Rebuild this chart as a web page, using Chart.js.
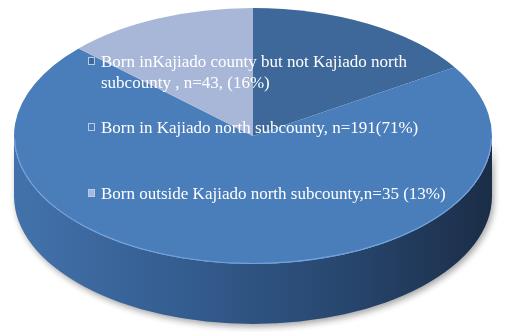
<!DOCTYPE html>
<html>
<head>
<meta charset="utf-8">
<script src="https://cdn.jsdelivr.net/npm/chart.js@4/dist/chart.umd.min.js"></script>
<style>
  html, body { margin: 0; padding: 0; background: #ffffff; }
  #wrap { width: 509px; height: 332px; position: relative; }
</style>
</head>
<body>
<div id="wrap"><canvas id="c" width="509" height="332"></canvas></div>
<script>
// ---- data ----
const categories = [
  "Born inKajiado county but not Kajiado north subcounty , n=43, (16%)",
  "Born in Kajiado north subcounty, n=191(71%)",
  "Born outside Kajiado north subcounty,n=35 (13%)"
];
const counts = [43, 191, 35];
const sliceColors = ["#3e6899", "#4a7ebb", "#a8b7d8"];

// ---- layout (not data) ----
const GEO = { cx: 253, cy: 136, rx: 239, ry: 128, depth: 60 };
const LEGEND = { x: 101, markerX: 88, baselines: [67, 133, 199], lineHeight: 21, maxWidth: 360,
                 font: "17px 'Liberation Serif', 'Times New Roman', serif" };

function wrapText(ctx, text, maxW) {
  const words = text.split(' ');
  const lines = [];
  let cur = '';
  for (const w of words) {
    const t = cur ? cur + ' ' + w : w;
    if (ctx.measureText(t).width > maxW && cur) { lines.push(cur); cur = w; }
    else cur = t;
  }
  if (cur) lines.push(cur);
  return lines;
}

const tiltPlugin = {
  id: 'tilt3d',
  beforeDatasetsDraw(chart) {
    const ctx = chart.ctx;
    const arc = chart.getDatasetMeta(0).data[0];
    const { cx, cy, rx, ry, depth } = GEO;
    // side wall
    ctx.save();
    const g = ctx.createLinearGradient(cx - rx, 0, cx + rx, 0);
    g.addColorStop(0, '#4372ab');
    g.addColorStop(0.35, '#345d90');
    g.addColorStop(0.7, '#27466d');
    g.addColorStop(1, '#1b2d47');
    ctx.shadowColor = 'rgba(0,0,0,0.35)';
    ctx.shadowBlur = 6;
    ctx.shadowOffsetX = 2;
    ctx.shadowOffsetY = 3;
    ctx.beginPath();
    ctx.moveTo(cx - rx, cy);
    ctx.lineTo(cx - rx, cy + depth);
    ctx.ellipse(cx, cy + depth, rx, ry, 0, Math.PI, 0, true);
    ctx.lineTo(cx + rx, cy);
    ctx.ellipse(cx, cy, rx, ry, 0, 0, Math.PI, false);
    ctx.closePath();
    ctx.fillStyle = g;
    ctx.fill();
    ctx.restore();
    // flatten the pie to an ellipse
    const kx = rx / arc.outerRadius, ky = ry / arc.outerRadius;
    ctx.save();
    ctx.translate(cx - arc.x * kx, cy - arc.y * ky);
    ctx.scale(kx, ky);
  },
  afterDatasetsDraw(chart) {
    const ctx = chart.ctx;
    ctx.restore();
    const { cx, cy, rx, ry } = GEO;
    // light rim on the front edge
    ctx.save();
    ctx.beginPath();
    ctx.ellipse(cx, cy, rx - 0.5, ry - 0.5, 0, 0.02, Math.PI - 0.02, false);
    ctx.strokeStyle = 'rgba(120,165,225,0.9)';
    ctx.lineWidth = 1.2;
    ctx.stroke();
    ctx.restore();
  },
  afterDraw(chart) {
    const ctx = chart.ctx;
    const labels = chart.data.labels;
    const colors = chart.data.datasets[0].backgroundColor;
    ctx.save();
    ctx.font = LEGEND.font;
    ctx.textBaseline = 'alphabetic';
    ctx.textAlign = 'left';
    labels.forEach((lab, i) => {
      const base = LEGEND.baselines[i];
      // marker
      const mx = LEGEND.markerX, my = base - 10;
      ctx.fillStyle = 'rgba(200,212,232,0.9)';
      ctx.fillRect(mx, my, 7, 8);
      ctx.fillStyle = colors[i];
      ctx.fillRect(mx + 1, my + 1, 5, 6);
      // text
      ctx.fillStyle = '#ffffff';
      const lines = wrapText(ctx, lab, LEGEND.maxWidth);
      lines.forEach((ln, j) => ctx.fillText(ln, LEGEND.x, base + j * LEGEND.lineHeight));
    });
    ctx.restore();
  }
};

new Chart(document.getElementById('c'), {
  type: 'pie',
  data: {
    labels: categories,
    datasets: [{ data: counts, backgroundColor: sliceColors, borderWidth: 0 }]
  },
  options: {
    responsive: false,
    animation: false,
    events: [],
    layout: { padding: 10 },
    plugins: { legend: { display: false }, tooltip: { enabled: false } }
  },
  plugins: [tiltPlugin]
});
</script>
</body>
</html>
